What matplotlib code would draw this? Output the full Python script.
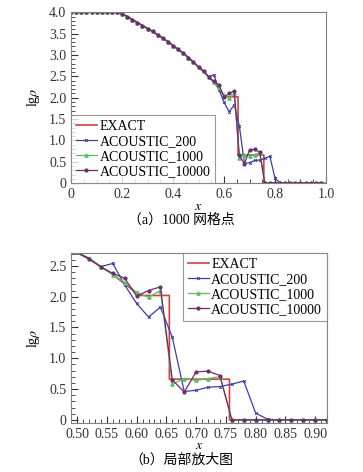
import numpy as np
import matplotlib.pyplot as plt
from matplotlib.ticker import MultipleLocator, FuncFormatter

plt.rcParams['font.family'] = ['Liberation Serif', 'Noto Sans CJK SC']
plt.rcParams['mathtext.fontset'] = 'stix'

# sample points (every 0.02)
x_pts = np.round(np.arange(0, 0.99, 0.02), 2)

# rarefaction part shared by all series, x = 0 .. 0.48
rare = [4.0, 4.0, 4.0, 4.0, 4.0, 4.0, 4.0, 4.0, 4.0, 4.0,
        3.97, 3.90, 3.83, 3.76, 3.69, 3.62, 3.55, 3.47, 3.39, 3.31,
        3.22, 3.13, 3.04, 2.94, 2.83]

# x = 0.50 .. 0.98
tail_200 = [2.71, 2.62, 2.49, 2.54, 2.19, 1.89, 1.67, 1.83, 1.34, 0.46,
            0.48, 0.53, 0.54, 0.58, 0.63, 0.11, 0.01, 0.0, 0.0, 0.0,
            0.0, 0.0, 0.0, 0.0, 0.0]
tail_1000 = [2.72, 2.63, 2.49, 2.36, 2.23, 2.07, 1.99, 2.10, 0.58, 0.67,
             0.64, 0.67, 0.70, 0.0, 0.0, 0.0, 0.0, 0.0, 0.0, 0.0,
             0.0, 0.0, 0.0, 0.0, 0.0]
tail_10000 = [2.72, 2.62, 2.48, 2.38, 2.30, 2.01, 2.10, 2.16, 0.65, 0.45,
              0.78, 0.79, 0.72, 0.0, 0.0, 0.0, 0.0, 0.0, 0.0, 0.0,
              0.0, 0.0, 0.0, 0.0, 0.0]

acoustic_200 = rare + tail_200
acoustic_1000 = rare + tail_1000
acoustic_10000 = rare + tail_10000

# exact solution (piecewise)
x_exact = [0.0, 0.18, 0.20, 0.22, 0.24, 0.26, 0.28, 0.30, 0.32, 0.34, 0.36,
           0.38, 0.40, 0.42, 0.44, 0.46, 0.48, 0.50, 0.52, 0.54, 0.56, 0.58,
           0.605, 0.655, 0.655, 0.756, 0.756, 1.0]
y_exact = [4.0, 4.0, 3.97, 3.90, 3.83, 3.76, 3.69, 3.62, 3.55, 3.47, 3.39,
           3.31, 3.22, 3.13, 3.04, 2.94, 2.83, 2.72, 2.61, 2.49, 2.36, 2.21,
           2.02, 2.02, 0.66, 0.66, 0.0, 0.0]

labels = ['EXACT', 'ACOUSTIC_200', 'ACOUSTIC_1000', 'ACOUSTIC_10000']
colors = ['#e23a3a', '#3a3fb0', '#55c060', '#6e2c6e']


def fmt(nd):
    def f(v, pos):
        if abs(v) < 1e-9:
            return '0'
        return f'{v:.{nd}f}'
    return FuncFormatter(f)


def draw(ax):
    ax.plot(x_exact, y_exact, color=colors[0], lw=1.2, label=labels[0])
    ax.plot(x_pts, acoustic_200, color=colors[1], lw=0.9, marker='x',
            ms=2, mew=0.7, label=labels[1])
    ax.plot(x_pts, acoustic_1000, color=colors[2], lw=0.9, marker='^',
            ms=2.3, label=labels[2])
    ax.plot(x_pts, acoustic_10000, color=colors[3], lw=0.9, marker='o',
            ms=2, label=labels[3])
    for s in ax.spines.values():
        s.set_color('#808080')
    ax.tick_params(which='both', direction='in', labelsize=10, colors='#333333',
                   labelfontfamily='Liberation Serif')
    ax.tick_params(which='major', length=5)
    ax.tick_params(which='minor', length=3)
    ax.set_xlabel('$x$', fontsize=10, labelpad=-1)
    ax.set_ylabel(r'lg$\rho$', fontsize=10, labelpad=5)


def legend(ax, loc):
    leg = ax.legend(loc=loc, fontsize=10, frameon=True, fancybox=False,
                    borderaxespad=0, handlelength=1.5, handletextpad=0.2,
                    labelspacing=0.15, borderpad=0.35)
    leg.get_frame().set_edgecolor('#808080')
    leg.get_frame().set_linewidth(0.8)


fig = plt.figure(figsize=(3.63, 4.72), dpi=100)

ax1 = fig.add_axes([0.196, 0.612, 0.702, 0.362])
draw(ax1)
ax1.set_xlim(0, 1.0)
ax1.set_ylim(0, 4.0)
ax1.xaxis.set_major_locator(MultipleLocator(0.2))
ax1.xaxis.set_minor_locator(MultipleLocator(0.05))
ax1.yaxis.set_major_locator(MultipleLocator(0.5))
ax1.yaxis.set_minor_locator(MultipleLocator(0.1))
ax1.xaxis.set_major_formatter(fmt(1))
ax1.yaxis.set_major_formatter(fmt(1))
legend(ax1, 'lower left')
fig.text(0.5, 0.533, '（a）1000 网格点', ha='center', va='center', fontsize=10)

ax2 = fig.add_axes([0.196, 0.104, 0.705, 0.360])
draw(ax2)
ax2.set_xlim(0.49, 0.92)
ax2.set_ylim(-0.05, 2.71)
ax2.xaxis.set_major_locator(MultipleLocator(0.05))
ax2.xaxis.set_minor_locator(MultipleLocator(0.01))
ax2.yaxis.set_major_locator(MultipleLocator(0.5))
ax2.yaxis.set_minor_locator(MultipleLocator(0.1))
ax2.xaxis.set_major_formatter(fmt(2))
ax2.yaxis.set_major_formatter(fmt(1))
legend(ax2, 'upper right')
fig.text(0.5, 0.025, '（b）局部放大图', ha='center', va='center', fontsize=10)

fig.savefig('out.png', dpi=100)
